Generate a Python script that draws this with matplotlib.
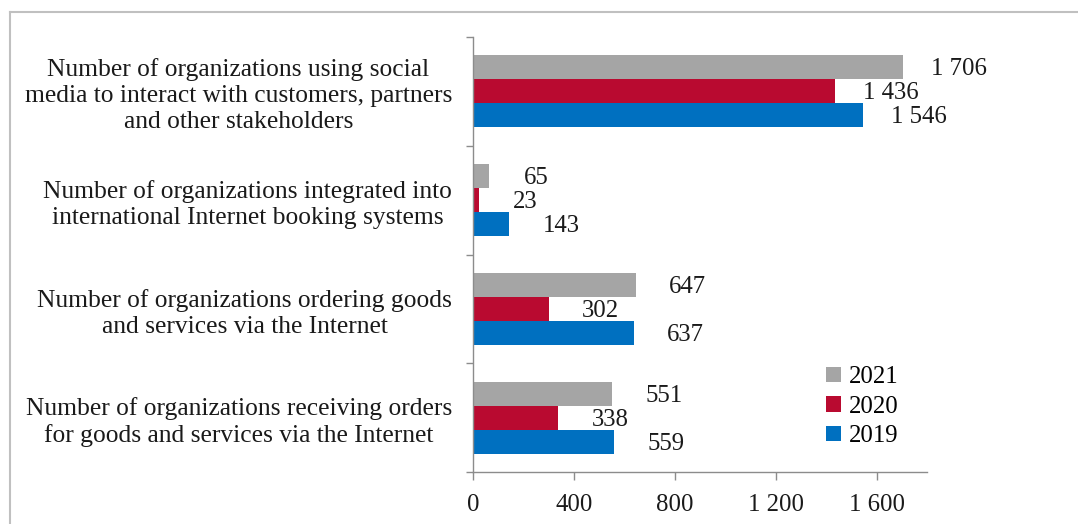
import matplotlib
matplotlib.use("Agg")
import matplotlib.pyplot as plt
from matplotlib.patches import Patch
from matplotlib.lines import Line2D
import numpy as np

categories = [
    "Number of organizations using social\nmedia to interact with customers, partners\nand other stakeholders",
    "Number of organizations integrated into\ninternational Internet booking systems",
    "Number of organizations ordering goods\nand services via the Internet",
    "Number of organizations receiving orders\nfor goods and services via the Internet",
]
years = ["2021", "2020", "2019"]
values_2021 = [1706, 65, 647, 551]
values_2020 = [1436, 23, 302, 338]
values_2019 = [1546, 143, 637, 559]
xticks = [0, 400, 800, 1200, 1600]
xtick_labels = ["0", "400", "800", "1 200", "1 600"]

colors = ["#A5A5A5", "#B90A30", "#0070C0"]
series = [values_2021, values_2020, values_2019]
label_offsets_px = [28, 34, 33, 34]

plt.rcParams['font.family'] = ['Liberation Serif', 'DejaVu Serif']
FS = 17.8
FS_CAT = 18.4

fig = plt.figure(figsize=(10.78, 5.24), dpi=100)
ax = fig.add_axes([473/1078, (524-472)/524, (927-473)/1078, (472-37)/524])

y = np.arange(len(categories))
h = 0.2207
shifts = [-h, 0, h]
for s, vals, col, yr in zip(shifts, series, colors, years):
    ax.barh(y + s, vals, height=h, color=col, label=yr)
    for i, (yy, v) in enumerate(zip(y + s, vals)):
        ax.annotate(f"{v:,}".replace(",", " "), (v, yy),
                    xytext=(label_offsets_px[i] * 0.72, -1.5), textcoords='offset points',
                    ha='left', va='center', fontsize=FS, color='#1a1a1a')

ax.set_xlim(0, 1800)
ax.set_ylim(3.5, -0.5)
ax.set_xticks(xticks)
ax.set_xticklabels(xtick_labels, fontsize=FS, color='#1a1a1a')
ax.set_yticks(y)
ax.set_yticklabels(categories, fontsize=FS_CAT, color='#1a1a1a')
for t in ax.get_yticklabels():
    t.set_multialignment('center')
    t.set_linespacing(1.22)
ax.set_yticks(np.arange(-0.5, 4, 1), minor=True)
ax.tick_params(axis='y', which='major', length=0, pad=15)
ax.tick_params(axis='y', which='minor', length=5, width=1, color='#8c8c8c', direction='out')
ax.tick_params(axis='x', which='major', length=6, width=1, color='#8c8c8c', direction='out', pad=10)

for side in ['top', 'right']:
    ax.spines[side].set_visible(False)
for side in ['left', 'bottom']:
    ax.spines[side].set_color('#8c8c8c')
    ax.spines[side].set_linewidth(1)

handles = [Patch(facecolor=c, edgecolor='none') for c in colors]
leg = fig.legend(handles, years, loc='upper left', bbox_to_anchor=(804/1078, (524-344)/524),
                 frameon=False, fontsize=FS, handlelength=0.6, handleheight=0.6,
                 handletextpad=0.3, labelspacing=0.3)

# outer frame (top and left visible)
fx = 10/1078
fy = (524-12)/524
fig.add_artist(Line2D([fx, fx], [0, fy], transform=fig.transFigure, color='#C0C0C0', lw=1.5))
fig.add_artist(Line2D([fx, 1], [fy, fy], transform=fig.transFigure, color='#C0C0C0', lw=1.5))

fig.savefig("out.png", dpi=100)
